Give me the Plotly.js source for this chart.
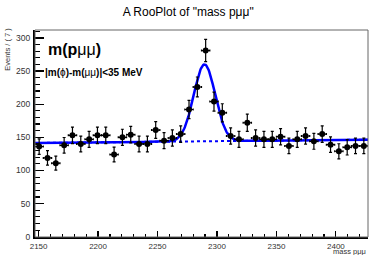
<!DOCTYPE html>
<html><head><meta charset="utf-8">
<script src="https://cdn.plot.ly/plotly-3.0.1.min.js"></script>
<style>html,body{margin:0;padding:0;background:#fff}#plot{width:369px;height:255px}</style>
</head><body><div id="plot"></div>
<script>
// Bin centres (bin width 7)
const massBins = [2150.5,2157.5,2164.5,2171.5,2178.5,2185.5,2192.5,2199.5,2206.5,2213.5,
  2220.5,2227.5,2234.5,2241.5,2248.5,2255.5,2262.5,2269.5,2276.5,2283.5,
  2290.5,2297.5,2304.5,2311.5,2318.5,2325.5,2332.5,2339.5,2346.5,2353.5,
  2360.5,2367.5,2374.5,2381.5,2388.5,2395.5,2402.5,2409.5,2416.5,2423.5];
const events = [136,119,111,138,153,140,147,153,153,124,
  150,154,140,140,161,145,149,155,192,226,
  281,204,187,152,147,172,149,147,147,151,
  137,147,152,144,155,139,129,135,137,137];
const binHalfWidth = 3.5;
// Fit model parameters (Gaussian signal + linear background)
const fitMean = 2289.5, fitSigma = 9, fitAmp = 116;
const bkgAt = [2147, 141.5], bkgSlope = 5/280;
const xRange = [2147, 2427], yRange = [-0.4, 312];
const xTicks = [2150,2200,2250,2300,2350,2400];
const yTicks = [0,50,100,150,200,250,300];

const bkg = x => bkgAt[1] + (x - bkgAt[0]) * bkgSlope;
const curveX = [];
for (let x = xRange[0]; x <= xRange[1]; x += 0.5) curveX.push(x);
const bkgY = curveX.map(bkg);
const totY = curveX.map(x => bkg(x) + fitAmp * Math.exp(-0.5 * Math.pow((x - fitMean) / fitSigma, 2)));

const traces = [
  {x: curveX, y: bkgY, mode: 'lines', line: {color: '#0000ff', width: 2, dash: 'dot'}, hoverinfo: 'skip'},
  {x: curveX, y: totY, mode: 'lines', line: {color: '#0000ff', width: 2.5}, hoverinfo: 'skip'},
  {x: massBins, y: events, mode: 'markers', marker: {color: '#000', size: 6},
   error_y: {type: 'data', array: events.map(v => Math.sqrt(v)), color: '#000', thickness: 1.2, width: 1.5},
   error_x: {type: 'constant', value: binHalfWidth, color: '#000', thickness: 1.2, width: 1}}
];

const F = 'Liberation Sans, Arial, sans-serif';
const layout = {
  width: 369, height: 255,
  margin: {l: 35, r: 1, t: 30, b: 18},
  paper_bgcolor: '#fff', plot_bgcolor: '#fff',
  showlegend: false,
  font: {family: F, color: '#000'},
  title: {text: 'A RooPlot of "mass pμμ"', x: 0.51, xanchor: 'center', y: 0.955, yanchor: 'middle',
          font: {family: F, size: 12, color: '#000'}},
  xaxis: {range: xRange, tickvals: xTicks, ticks: 'inside', ticklen: 6, tickwidth: 1.2, tickcolor: '#000',
          minor: {dtick: 10, tick0: 2150, ticks: 'inside', ticklen: 3, tickwidth: 1.2, tickcolor: '#000'},
          showline: true, linecolor: '#000', linewidth: 2, showgrid: false, zeroline: false,
          tickfont: {size: 8, color: '#333'}},
  yaxis: {range: yRange, tickvals: yTicks, ticks: 'inside', ticklen: 9, tickwidth: 1.2, tickcolor: '#000',
          minor: {dtick: 10, tick0: 0, ticks: 'inside', ticklen: 4.5, tickwidth: 1.2, tickcolor: '#000'},
          showline: true, linecolor: '#000', linewidth: 2, showgrid: false, zeroline: false,
          tickfont: {size: 8.5, color: '#333'}, ticklabelstandoff: 1},
  shapes: [{type: 'rect', xref: 'paper', yref: 'paper', x0: 0, x1: 1, y0: 0, y1: 1,
            line: {color: '#666', width: 1}}],
  annotations: [
    {text: '<b>m(p</b>μμ<b>)</b>', xref: 'paper', yref: 'paper', x: 0.033, y: 0.905, xanchor: 'left', yanchor: 'middle',
     showarrow: false, font: {family: F, size: 16, color: '#000'}},
    {text: '<b>|m(</b>ϕ<b>)-m(</b>μμ<b>)|&lt;35 MeV</b>', xref: 'paper', yref: 'paper', x: 0.024, y: 0.795, xanchor: 'left', yanchor: 'middle',
     showarrow: false, font: {family: F, size: 10, color: '#000'}},
    {text: 'Events / ( 7 )', xref: 'paper', yref: 'paper', x: -0.083, y: 1.02, xanchor: 'center', yanchor: 'top',
     textangle: -90, showarrow: false, font: {family: F, size: 7.5, color: '#333'}},
    {text: 'mass pμμ', xref: 'paper', yref: 'paper', x: 1, y: -0.071, xanchor: 'right', yanchor: 'middle',
     showarrow: false, font: {family: F, size: 7.5, color: '#333'}}
  ]
};
Plotly.newPlot('plot', traces, layout, {staticPlot: true, displayModeBar: false});
</script></body></html>
